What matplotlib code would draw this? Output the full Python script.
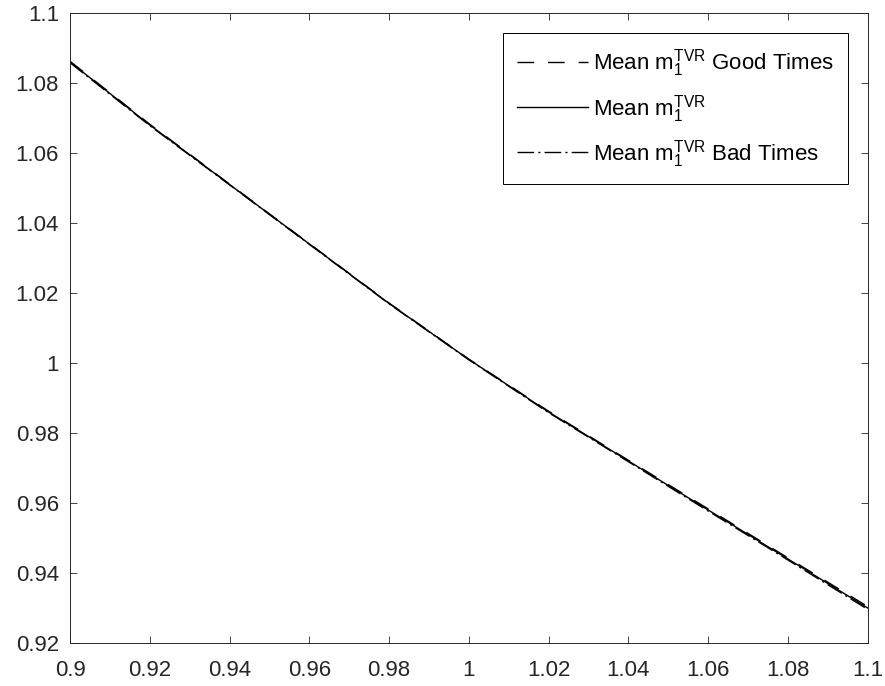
import numpy as np
import matplotlib
matplotlib.use('Agg')
import matplotlib.pyplot as plt
from matplotlib.ticker import FuncFormatter

# ------------------------- дані -------------------------
x_vals = [0.90, 0.92, 0.94, 0.96, 0.98, 1.00, 1.02, 1.04, 1.06, 1.08, 1.10]
mean_m1 = [1.086, 1.068, 1.051, 1.034, 1.017, 1.001, 0.986, 0.972, 0.958, 0.944, 0.930]
mean_good = [1.0862, 1.0682, 1.0511, 1.0341, 1.0171, 1.0011, 0.9862, 0.9722, 0.9583, 0.9443, 0.9304]
mean_bad = [1.0858, 1.0678, 1.0509, 1.0339, 1.0169, 1.0009, 0.9858, 0.9718, 0.9577, 0.9437, 0.9296]

labels = [r'Mean m$_1^{\mathrm{TVR}}$ Good Times',
          r'Mean m$_1^{\mathrm{TVR}}$',
          r'Mean m$_1^{\mathrm{TVR}}$ Bad Times']

plt.rcParams['font.family'] = ['Liberation Sans', 'DejaVu Sans']
plt.rcParams['mathtext.fontset'] = 'custom'
plt.rcParams['mathtext.rm'] = 'Liberation Sans'
plt.rcParams['mathtext.it'] = 'Liberation Sans'

fig = plt.figure(figsize=(8.85, 6.86), dpi=100)
ax = fig.add_axes([0.0791, 0.0627, 0.9014, 0.9184])

ax.plot(x_vals, mean_good, color='black', lw=1.0, ls=(0, (12, 10)), label=labels[0])
ax.plot(x_vals, mean_m1, color='black', lw=1.0, ls='-', label=labels[1])
ax.plot(x_vals, mean_bad, color='black', lw=1.0, ls=(0, (12, 3, 1.5, 3)), label=labels[2])

ax.set_xlim(0.9, 1.1)
ax.set_ylim(0.92, 1.1)
ax.set_xticks(np.arange(0.9, 1.1001, 0.02))
ax.set_yticks(np.arange(0.92, 1.1001, 0.02))
fmt = FuncFormatter(lambda v, p: '%g' % round(v, 2))
ax.xaxis.set_major_formatter(fmt)
ax.yaxis.set_major_formatter(fmt)

grey = '#262626'
ax.tick_params(direction='in', length=5, width=0.6, top=True, right=True,
               labelsize=16, colors=grey, labelcolor=grey)
ax.tick_params(axis='y', pad=8)
ax.tick_params(axis='x', pad=12)
for s in ax.spines.values():
    s.set_color(grey)
    s.set_linewidth(0.7)

leg = ax.legend(loc='upper right', bbox_to_anchor=(0.9753, 0.9683),
                borderaxespad=0, fancybox=False, edgecolor='black',
                fontsize=16, handlelength=3.2, handletextpad=0.2,
                labelspacing=0.6, borderpad=0.65, framealpha=1)
leg.get_frame().set_linewidth(0.7)

fig.savefig('out.png', dpi=100)
